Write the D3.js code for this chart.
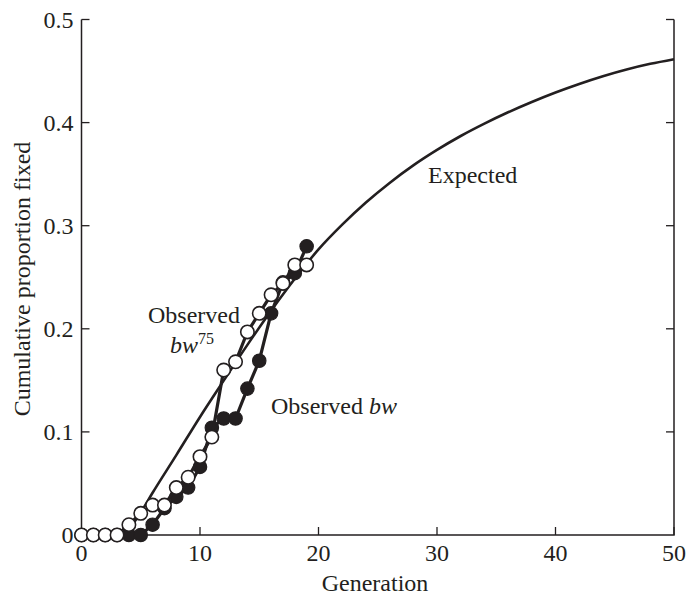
<!DOCTYPE html>
<html>
<head>
<meta charset="utf-8">
<script src="https://cdn.jsdelivr.net/npm/d3@7"></script>
<style>
  body { margin: 0; background: #fff; }
  svg { display: block; }
  text { font-family: "Liberation Serif", "Times New Roman", serif; fill: #231f20; }
</style>
</head>
<body>
<svg id="chart" width="687" height="598"></svg>
<script>
// ---- data ----
const generations = [0,1,2,3,4,5,6,7,8,9,10,11,12,13,14,15,16,17,18,19];
const observedBw   = [0,0,0,0,0,0,0.010,0.026,0.037,0.046,0.066,0.104,0.113,0.113,0.142,0.169,0.215,0.245,0.254,0.280];
const observedBw75 = [0,0,0,0,0.010,0.021,0.029,0.029,0.046,0.056,0.076,0.095,0.160,0.168,0.197,0.215,0.233,0.244,0.262,0.262];
const expectedGen  = [3,4,5,6,8,10,12,14,16,18,20,22,24,26,28,30,32,34,36,38,40,42,44,46,48,50];
const expectedVal  = [0,0.006,0.022,0.041,0.0775,0.1145,0.1497,0.1844,0.2175,0.2485,0.277,0.301,0.3225,0.3415,0.3585,0.3735,0.387,0.399,0.410,0.420,0.4292,0.4375,0.445,0.4515,0.457,0.4615];
const xTicks = [0,10,20,30,40,50];
const yTicks = [0,0.1,0.2,0.3,0.4,0.5];

const svg = d3.select("#chart");
const ink = "#231f20";
const x = d3.scaleLinear().domain([0,50]).range([81.5,674]);
const y = d3.scaleLinear().domain([0,0.5]).range([535,19.5]);
const fs = 24;

// axes frame: left, bottom, right
const gAx = svg.append("g");
gAx.append("path")
  .attr("d", `M${x(0)},${y(0.5)}V${y(0)}H${x(50)}V${y(0.5)}`)
  .attr("fill","none").attr("stroke",ink).attr("stroke-width",1.5);

// y ticks (inward) left and right
yTicks.forEach(t => {
  if (t > 0) {
    gAx.append("line").attr("x1",x(0)).attr("x2",x(0)+8).attr("y1",y(t)).attr("y2",y(t))
      .attr("stroke",ink).attr("stroke-width",1.3);
    gAx.append("line").attr("x1",x(50)).attr("x2",x(50)-8).attr("y1",y(t)).attr("y2",y(t))
      .attr("stroke",ink).attr("stroke-width",1.3);
  }
  gAx.append("text").attr("x", x(0)-8).attr("y", y(t)).attr("dy","0.35em")
    .attr("text-anchor","end").attr("font-size",fs)
    .text(t === 0 ? "0" : d3.format(".1f")(t));
});
// x ticks (inward)
xTicks.forEach(t => {
  if (t > 0) {
    gAx.append("line").attr("x1",x(t)).attr("x2",x(t)).attr("y1",y(0)).attr("y2",y(0)-8)
      .attr("stroke",ink).attr("stroke-width",1.3);
  }
  gAx.append("text").attr("x", x(t)).attr("y", 561)
    .attr("text-anchor","middle").attr("font-size",fs).text(t);
});

// axis titles
svg.append("text").attr("x", 375).attr("y", 591).attr("text-anchor","middle")
  .attr("font-size",fs).text("Generation");
svg.append("text").attr("transform","translate(30,279) rotate(-90)")
  .attr("text-anchor","middle").attr("font-size",fs).text("Cumulative proportion fixed");

// expected curve
const exp = expectedGen.map((g,i)=>[g, expectedVal[i]]);
svg.append("path").datum(exp)
  .attr("d", d3.line().x(d=>x(d[0])).y(d=>y(d[1])).curve(d3.curveMonotoneX))
  .attr("fill","none").attr("stroke",ink).attr("stroke-width",2.6);

// observed series
const line = d3.line().x(d=>x(d[0])).y(d=>y(d[1]));
const bw = generations.map((g,i)=>[g, observedBw[i]]);
const bw75 = generations.map((g,i)=>[g, observedBw75[i]]);

svg.append("path").datum(bw).attr("d", line)
  .attr("fill","none").attr("stroke",ink).attr("stroke-width",3.2);
svg.selectAll("circle.bw").data(bw).join("circle").attr("class","bw")
  .attr("cx",d=>x(d[0])).attr("cy",d=>y(d[1])).attr("r",6.7)
  .attr("fill",ink).attr("stroke",ink).attr("stroke-width",1.2);

svg.append("path").datum(bw75).attr("d", line)
  .attr("fill","none").attr("stroke",ink).attr("stroke-width",3.2);
svg.selectAll("circle.bw75").data(bw75).join("circle").attr("class","bw75")
  .attr("cx",d=>x(d[0])).attr("cy",d=>y(d[1])).attr("r",6.7)
  .attr("fill","#fff").attr("stroke",ink).attr("stroke-width",1.6);

// annotations
svg.append("text").attr("x",428).attr("y",183).attr("font-size",fs).text("Expected");
svg.append("text").attr("x",148).attr("y",323).attr("font-size",fs).text("Observed");
const t2 = svg.append("text").attr("x",170).attr("y",353).attr("font-size",fs);
t2.append("tspan").attr("font-style","italic").text("bw");
t2.append("tspan").attr("font-size",16).attr("dy",-9).text("75");
const t3 = svg.append("text").attr("x",271).attr("y",414).attr("font-size",fs);
t3.append("tspan").text("Observed ");
t3.append("tspan").attr("font-style","italic").text("bw");
</script>
</body>
</html>
